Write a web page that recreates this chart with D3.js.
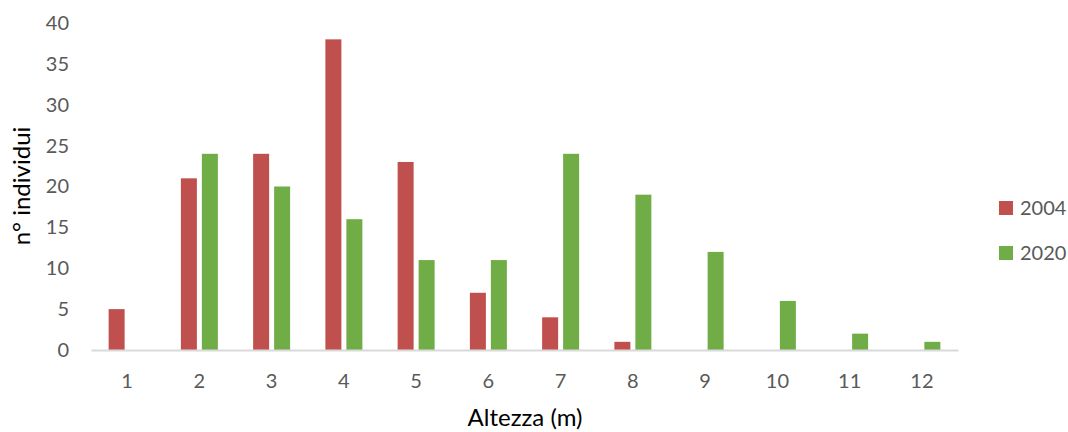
<!DOCTYPE html>
<html>
<head>
<meta charset="utf-8">
<script src="https://cdn.jsdelivr.net/npm/d3@7"></script>
<style>
  html, body { margin: 0; padding: 0; background: #fff; }
  svg { display: block; font-family: Lato, "Liberation Sans", sans-serif; }
</style>
</head>
<body>
<svg id="chart" width="1068" height="432"></svg>
<script>
// Height classes (m) and number of individuals per survey year
const categories = ["1", "2", "3", "4", "5", "6", "7", "8", "9", "10", "11", "12"];
const values2004 = [5, 21, 24, 38, 23, 7, 4, 1, 0, 0, 0, 0];
const values2020 = [0, 24, 20, 16, 11, 11, 24, 19, 12, 6, 2, 1];
const seriesNames = ["2004", "2020"];
const seriesColors = ["#C0504D", "#70AD47"];
const yTicks = [0, 5, 10, 15, 20, 25, 30, 35, 40];

const FONT = "Lato, 'Liberation Sans', sans-serif";
const svg = d3.select("#chart");
const plot = { left: 91, right: 958, top: 23, bottom: 350 };

const x0 = d3.scaleBand()
  .domain(categories)
  .range([plot.left, plot.right])
  .padding(0);

const x1 = d3.scaleBand()
  .domain(seriesNames)
  .range([0, x0.bandwidth()])
  .paddingInner(0.238)
  .paddingOuter(0.84);

const y = d3.scaleLinear()
  .domain([0, 40])
  .range([plot.bottom, plot.top]);

const color = d3.scaleOrdinal().domain(seriesNames).range(seriesColors);

const rows = categories.map((c, i) => ({
  cat: c,
  vals: [
    { key: "2004", value: values2004[i] },
    { key: "2020", value: values2020[i] }
  ]
}));

// Bars
const groups = svg.append("g")
  .selectAll("g")
  .data(rows)
  .join("g")
  .attr("transform", d => `translate(${x0(d.cat)},0)`);

groups.selectAll("rect")
  .data(d => d.vals.filter(v => v.value > 0))
  .join("rect")
  .attr("x", d => x1(d.key))
  .attr("y", d => y(d.value))
  .attr("width", x1.bandwidth())
  .attr("height", d => y(0) - y(d.value))
  .attr("fill", d => color(d.key));

// X axis
const xAxis = svg.append("g")
  .attr("transform", `translate(0,${plot.bottom})`)
  .call(d3.axisBottom(x0).tickSize(0).tickPadding(24));
xAxis.select(".domain").attr("stroke", "#D9D9D9").attr("stroke-width", 2);
xAxis.selectAll("text")
  .attr("fill", "#595959")
  .attr("font-size", 20)
  .attr("font-family", FONT);

// Y axis (labels only)
const yAxis = svg.append("g")
  .attr("transform", `translate(${plot.left - 22},0)`)
  .call(d3.axisLeft(y).tickValues(yTicks).tickSize(0).tickPadding(0));
yAxis.select(".domain").remove();
yAxis.selectAll("text")
  .attr("fill", "#595959")
  .attr("font-size", 20)
  .attr("font-family", FONT);

// Axis titles
svg.append("text")
  .attr("x", 525)
  .attr("y", 426)
  .attr("text-anchor", "middle")
  .attr("font-size", 24)
  .attr("fill", "#000")
  .text("Altezza (m)");

svg.append("text")
  .attr("transform", `translate(30,186) rotate(-90)`)
  .attr("text-anchor", "middle")
  .attr("font-size", 24)
  .attr("fill", "#000")
  .text("n° individui");

// Legend
const legend = svg.append("g")
  .selectAll("g")
  .data(seriesNames)
  .join("g")
  .attr("transform", (d, i) => `translate(999,${201 + i * 45})`);

legend.append("rect")
  .attr("width", 14)
  .attr("height", 14)
  .attr("fill", d => color(d));

legend.append("text")
  .attr("x", 21)
  .attr("y", 7)
  .attr("dy", "0.36em")
  .attr("font-size", 20)
  .attr("fill", "#595959")
  .text(d => d);
</script>
</body>
</html>
